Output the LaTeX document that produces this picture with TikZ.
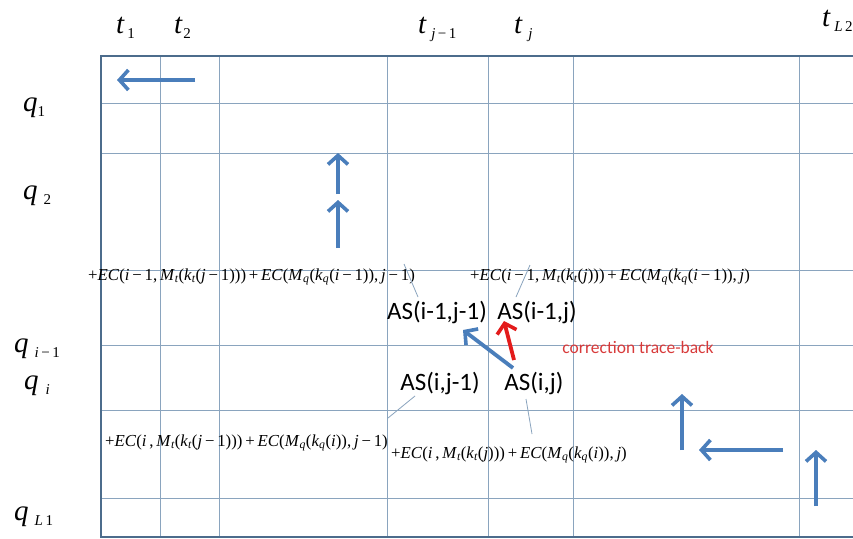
\documentclass[tikz,border=0pt]{standalone}
\usepackage{fontspec}
\setmainfont{Liberation Serif}
\newfontfamily\calib{Carlito}
\usetikzlibrary{arrows.meta}
\definecolor{gridc}{HTML}{8AA4BE}
\definecolor{framec}{HTML}{4C6C8C}
\definecolor{arrc}{HTML}{4A7EBB}
\definecolor{redarr}{HTML}{E31B1B}
\definecolor{redtxt}{HTML}{D83A3A}
\newcommand\myIt[1]{\textit{#1}}
\newcommand\mysbt[1]{\textsubscript{\itshape #1}}
\newcommand\mymn{\,−\,}
\newcommand\myp{\,+\,}
\newcommand\axbig[2]{{\fontsize{29}{29}\selectfont\itshape #1}\hspace{#2}}
\newcommand\axsml[1]{\raisebox{-5pt}{\fontsize{15}{15}\selectfont #1}}
\tikzset{
  gridline/.style={draw=gridc, line width=0.9pt},
  frameline/.style={draw=framec, line width=2.8pt},
  barrow/.style={draw=arrc, line width=3.8pt, -{Straight Barb[length=9pt,width=20pt,line width=3.6pt]}},
  rarrow/.style={draw=redarr, line width=3.8pt, -{Straight Barb[length=9pt,width=20pt,line width=3.6pt]}},
  axlbl/.style={inner sep=0pt, anchor=base west},
  formula/.style={inner sep=0pt, font=\fontsize{16.8}{17}\selectfont},
  aslbl/.style={inner sep=0pt, font=\calib\fontsize{25}{26}\selectfont},
  leader/.style={draw=gridc, line width=0.8pt},
}
\begin{document}
\begin{tikzpicture}[x=1pt,y=-1pt]
\useasboundingbox (0,0) rectangle (853,538);
\fill[white] (0,0) rectangle (853,538);
% grid
\foreach \x in {160,219,387,488,573,799} \draw[gridline] (\x,56) -- (\x,537);
\foreach \y in {103,153,270,345,410,498} \draw[gridline] (101,\y) -- (853,\y);
\draw[frameline] (853,56) -- (101,56) -- (101,537) -- (853,537);

% column labels
\node[axlbl] (t1) at (116,33) {\axbig{t}{3pt}\axsml{1}};
\node[axlbl] (t2) at (174,33) {\axbig{t}{1pt}\axsml{2}};
\node[axlbl] (tj1) at (418,33) {\axbig{t}{5pt}\axsml{\myIt{j}\,−\,1}};
\node[axlbl] (tj) at (514,33) {\axbig{t}{6pt}\axsml{\myIt{j}}};
\node[axlbl] (tL2) at (822,27) {\axbig{t}{4pt}\axsml{\myIt{L}\,2}};

% row labels
\node[axlbl] (q1) at (23,111) {\axbig{q}{0pt}\axsml{1}};
\node[axlbl] (q2) at (23,199) {\axbig{q}{6pt}\axsml{2}};
\node[axlbl] (qi1) at (14,352) {\axbig{q}{6pt}\axsml{\myIt{i}\,−\,1}};
\node[axlbl] (qi) at (24,389) {\axbig{q}{7pt}\axsml{\myIt{i}}};
\node[axlbl] (qL1) at (14,520) {\axbig{q}{6pt}\axsml{\myIt{L}\,1}};

% formulas
\node[formula, anchor=west] (f1) at (88,277) {+\myIt{EC}(\myIt{i}\mymn1,\,\myIt{M}\mysbt{t}(\myIt{k}\mysbt{t}(\myIt{j}\mymn1)))\myp\myIt{EC}(\myIt{M}\mysbt{q}(\myIt{k}\mysbt{q}(\myIt{i}\mymn1)),\,\myIt{j}\mymn1)};
\node[formula, anchor=west] (f2) at (470,277) {+\myIt{EC}(\myIt{i}\mymn1,\,\myIt{M}\mysbt{t}(\myIt{k}\mysbt{t}(\myIt{j})))\myp\myIt{EC}(\myIt{M}\mysbt{q}(\myIt{k}\mysbt{q}(\myIt{i}\mymn1)),\,\myIt{j})};
\node[formula, anchor=west] (f3) at (105,443) {+\myIt{EC}(\myIt{i}\,,\,\myIt{M}\mysbt{t}(\myIt{k}\mysbt{t}(\myIt{j}\mymn1)))\myp\myIt{EC}(\myIt{M}\mysbt{q}(\myIt{k}\mysbt{q}(\myIt{i})),\,\myIt{j}\mymn1)};
\node[formula, anchor=west] (f4) at (391,455) {+\myIt{EC}(\myIt{i}\,,\,\myIt{M}\mysbt{t}(\myIt{k}\mysbt{t}(\myIt{j})))\myp\myIt{EC}(\myIt{M}\mysbt{q}(\myIt{k}\mysbt{q}(\myIt{i})),\,\myIt{j})};

% AS labels
\node[aslbl] (a11) at (437,312) {AS(i-1,j-1)};
\node[aslbl] (a10) at (537,312) {AS(i-1,j)};
\node[aslbl] (a01) at (440,383) {AS(i,j-1)};
\node[aslbl] (a00) at (534,383) {AS(i,j)};
\node[inner sep=0pt, text=redtxt, font=\calib\fontsize{17.5}{18}\selectfont] (ctb) at (638,347) {correction trace-back};

% leaders
\coordinate (l1a) at (404,264); \coordinate (l1b) at (418,297);
\coordinate (l2a) at (530,265); \coordinate (l2b) at (516,297);
\coordinate (l3a) at (415,396); \coordinate (l3b) at (388,418);
\coordinate (l4a) at (526,399); \coordinate (l4b) at (532,434);
\draw[leader] (l1a) -- (l1b);
\draw[leader] (l2a) -- (l2b);
\draw[leader] (l3a) -- (l3b);
\draw[leader] (l4a) -- (l4b);

% arrows
\coordinate (a1s) at (195,80); \coordinate (a1e) at (117,80);
\coordinate (a2s) at (338,194); \coordinate (a2e) at (338,153);
\coordinate (a3s) at (338,248); \coordinate (a3e) at (338,200);
\coordinate (a4s) at (513,368); \coordinate (a4e) at (463,330);
\coordinate (a5s) at (514,360); \coordinate (a5e) at (504,321);
\coordinate (a6s) at (682,450); \coordinate (a6e) at (682,394);
\coordinate (a7s) at (783,450); \coordinate (a7e) at (699,450);
\coordinate (a8s) at (816,506); \coordinate (a8e) at (816,450);
\draw[barrow] (a1s) -- (a1e);
\draw[barrow] (a2s) -- (a2e);
\draw[barrow] (a3s) -- (a3e);
\draw[barrow] (a4s) -- (a4e);
\draw[rarrow] (a5s) -- (a5e);
\draw[barrow] (a6s) -- (a6e);
\draw[barrow] (a7s) -- (a7e);
\draw[barrow] (a8s) -- (a8e);
\end{tikzpicture}
\end{document}
